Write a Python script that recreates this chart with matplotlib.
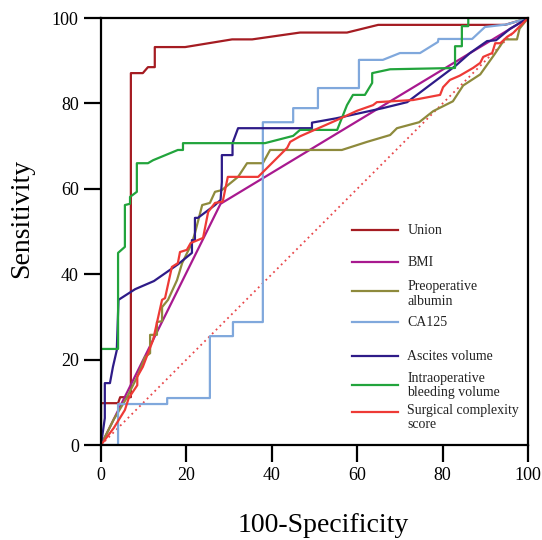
import matplotlib
matplotlib.use('Agg')
import matplotlib.pyplot as plt
from matplotlib.lines import Line2D

plt.rcParams['font.family'] = ['Liberation Serif', 'DejaVu Serif']

# ROC curves: (100-specificity, sensitivity)
union_x = [0, 0, 4, 4.5, 7, 7, 9.8, 11, 12.6, 12.6, 19.7, 30.7, 35.4, 46.6, 57.6, 64.9, 94.6, 100]
union_y = [0, 9.8, 9.8, 11.2, 11.2, 87.1, 87.1, 88.5, 88.5, 93.2, 93.2, 95, 95, 96.6, 96.6, 98.4, 98.4, 100]

bmi_x = [0, 28, 100]
bmi_y = [0, 56.5, 100]

alb_x = [0, 3, 6, 8.5, 10.3, 11.5, 11.5, 13.1, 13.1, 14.3, 14.3, 15.7, 17.8, 19, 21.3, 22, 23.7,
         25.5, 26.7, 28.3, 32.1, 34.2, 37.9, 39.6, 56.4, 62.3, 67.7, 69.3, 74.5, 77.8, 82.4,
         84.8, 88.8, 92, 94.5, 97.4, 98, 100]
alb_y = [0, 6, 11, 16, 20.6, 21.5, 25.8, 25.8, 28.8, 29, 32.3, 34, 38.6, 42.6, 47.3, 49.6, 56.2,
         56.7, 59.3, 59.7, 62.8, 66, 66, 69.1, 69.1, 71, 72.6, 74.2, 75.6, 78.2, 80.5,
         84.2, 86.8, 91.3, 95, 95, 97.5, 100]

ca125_x = [0, 4, 4, 15.5, 15.5, 25.5, 25.5, 30.9, 30.9, 37.9, 37.9, 45, 45, 50.8, 50.8, 60.4,
           60.4, 66, 70, 74.7, 78.9, 79, 86.9, 89.9, 95, 100]
ca125_y = [0, 0, 9.6, 9.6, 11, 11, 25.5, 25.5, 28.8, 28.8, 75.6, 75.6, 78.9, 78.9, 83.6, 83.6,
           90.2, 90.2, 91.8, 91.8, 94.4, 95.1, 95.1, 97.9, 98.5, 100]

asc_x = [0, 0.9, 0.9, 2.1, 2.8, 3.7, 4.1, 8, 12.4, 18, 21.3, 21.3, 22, 22, 22.7, 26.7, 28, 28.3,
         28.3, 30.8, 30.8, 32.1, 49.4, 49.4, 55, 66, 71.7, 83, 86.4, 90.4, 92.5, 95.8, 100]
asc_y = [0, 6.3, 14.5, 14.5, 18.3, 22.2, 34, 36.5, 38.4, 42.3, 45, 48, 48, 53.2, 53.2, 56.2, 57.4,
         61.6, 67.9, 67.9, 70.7, 74.2, 74.2, 75.5, 76.5, 78.9, 80.3, 88.8, 91.8, 94.6, 94.8, 97.5, 100]

bleed_x = [0, 0, 4, 4, 5.6, 5.6, 6.8, 6.8, 8.4, 8.4, 11, 12.2, 18, 19.2, 19.2, 38.4, 45, 46.6,
           55.3, 57.6, 59, 61.8, 63.5, 63.5, 67.7, 82.9, 82.9, 84.5, 84.5, 86, 86, 100]
bleed_y = [0, 22.5, 22.5, 45, 46.4, 56.2, 56.5, 58.1, 59.3, 66, 66, 66.7, 69.1, 69.1, 70.7, 70.7,
           72.4, 73.8, 73.8, 79.6, 82, 82, 84.8, 87.1, 88, 88.3, 93.4, 93.4, 98.1, 98.1, 100, 100]

surg_x = [0, 3, 5.6, 6.5, 8.5, 8.5, 9.8, 12.2, 14.3, 15, 16.6, 18, 18.5, 20.1, 21, 23.9, 25.1,
          26.7, 28.5, 29.7, 36.8, 40.7, 43.6, 44.3, 46.6, 55, 60, 63.7, 64.6, 73.1, 79.4, 80.1,
          81.7, 84, 87.1, 88.8, 89.5, 91.6, 92.3, 93.5, 95.1, 96.5, 100]
surg_y = [0, 4, 8.2, 11, 14, 16, 18.3, 24.6, 34, 34.4, 41.7, 42.6, 45.2, 45.7, 47.3, 48.5, 54.6,
          56.7, 57, 62.8, 62.8, 66.7, 69.6, 71, 72.3, 76, 78.3, 79.6, 80.3, 80.8, 82, 83.8,
          85.5, 86.5, 88.3, 89.5, 90.9, 91.8, 94.1, 94.1, 95.6, 96.5, 100]

labels = ['Union', 'BMI', 'Preoperative\nalbumin', 'CA125', 'Ascites volume',
          'Intraoperative\nbleeding volume', 'Surgical complexity\nscore']
colors = ['#A51C22', '#A8198F', '#8E8A3C', '#80A8DC', '#2E1B88', '#22A43C', '#EE3A36']
curves = [(union_x, union_y), (bmi_x, bmi_y), (alb_x, alb_y), (ca125_x, ca125_y),
          (asc_x, asc_y), (bleed_x, bleed_y), (surg_x, surg_y)]
ticks = [0, 20, 40, 60, 80, 100]

# legend layout (axes fraction): key line height, text centre height
key_y = [0.5035, 0.4286, 0.3607, 0.2881, 0.2084, 0.1405, 0.0773]
text_y = [0.5035, 0.4286, 0.3536, 0.2881, 0.2084, 0.1393, 0.0644]

fig = plt.figure(figsize=(5.42, 5.40), dpi=100)
ax = fig.add_axes([0.1863, 0.1759, 0.788, 0.7907])

ax.plot([0, 100], [0, 100], linestyle=(0, (1, 2)), color='#E8464A', linewidth=1.3)
for (x, y), c in zip(curves, colors):
    ax.plot(x, y, color=c, linewidth=1.6)

# hand-placed legend, the original spaces its entries unevenly
for c, lab, ky, ty in zip(colors, labels, key_y, text_y):
    ax.add_line(Line2D([0.588, 0.696], [ky, ky], color=c, linewidth=1.6,
                       transform=ax.transAxes))
    ax.text(0.717, ty, lab, transform=ax.transAxes, fontsize=10, va='center',
            ha='left', linespacing=1.15, color='#222222')

ax.set_xlim(0, 100)
ax.set_ylim(0, 100)
ax.set_xticks(ticks)
ax.set_yticks(ticks)
ax.tick_params(direction='out', length=12, width=1.6, labelsize=13, pad=4, color='black')
for s in ax.spines.values():
    s.set_linewidth(1.6)

ax.set_xlabel('100-Specificity', fontsize=20, labelpad=21, x=0.52)
ax.set_ylabel('Sensitivity', fontsize=20, labelpad=13, y=0.53)

fig.savefig('out.png', dpi=100)
